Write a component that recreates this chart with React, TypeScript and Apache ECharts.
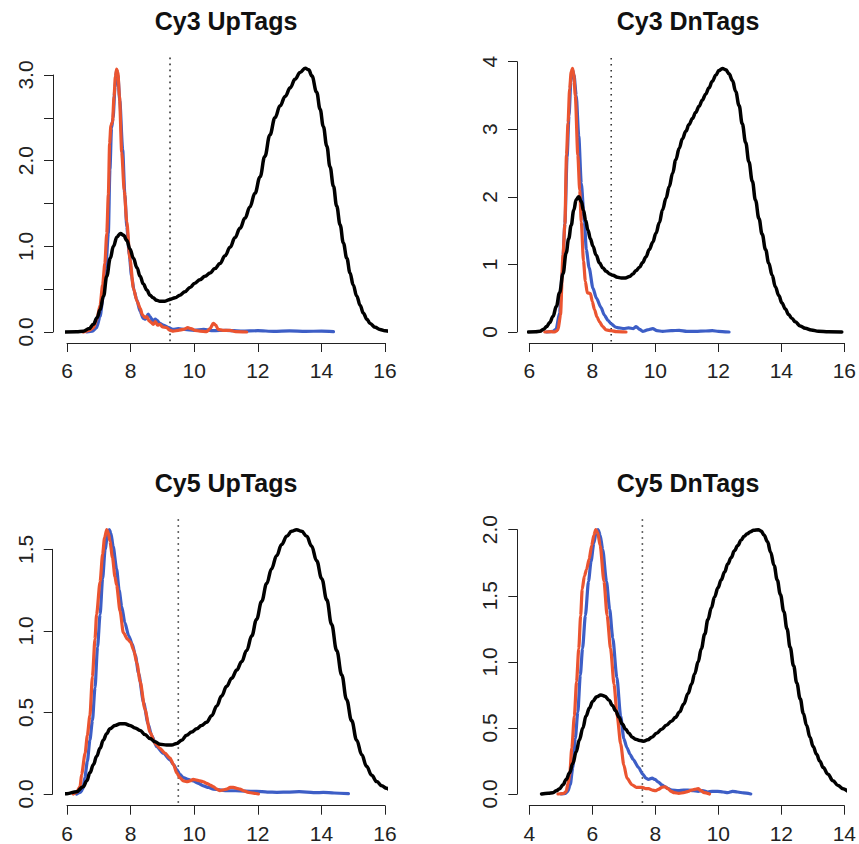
import React, { useEffect, useRef } from 'react';
import * as echarts from 'echarts';

type P = [number, number][];

// ---------- Cy3 UpTags ----------
const cy3UpTitle = 'Cy3 UpTags';
const cy3UpX = [6, 16, 2];
const cy3UpY = [0, 3, 0.5, 1];
const cy3UpCutoff = 9.24;
const cy3UpBlack: P = [[5.94,0],[6.3,0.003],[6.51,0.01],[6.7,0.04],[6.83,0.09],[6.95,0.17],[7.04,0.26],[7.15,0.42],[7.25,0.65],[7.36,0.86],[7.46,1.0],[7.57,1.11],[7.68,1.15],[7.78,1.13],[7.88,1.07],[7.98,0.97],[8.09,0.86],[8.2,0.75],[8.3,0.65],[8.4,0.56],[8.51,0.49],[8.61,0.43],[8.71,0.4],[8.82,0.37],[8.92,0.36],[9.08,0.36],[9.24,0.38],[9.4,0.4],[9.55,0.43],[9.71,0.47],[9.87,0.52],[10.02,0.57],[10.18,0.61],[10.34,0.65],[10.5,0.69],[10.65,0.74],[10.81,0.8],[10.97,0.89],[11.13,0.99],[11.28,1.1],[11.44,1.21],[11.6,1.33],[11.75,1.46],[11.91,1.62],[12.07,1.81],[12.22,2.05],[12.38,2.3],[12.54,2.5],[12.7,2.64],[12.86,2.75],[13.02,2.85],[13.17,2.95],[13.33,3.03],[13.49,3.08],[13.6,3.06],[13.7,2.99],[13.85,2.8],[13.96,2.6],[14.06,2.4],[14.17,2.17],[14.27,1.93],[14.38,1.7],[14.48,1.47],[14.59,1.25],[14.69,1.04],[14.8,0.86],[14.9,0.69],[15.0,0.55],[15.11,0.42],[15.22,0.31],[15.32,0.22],[15.43,0.15],[15.53,0.1],[15.69,0.055],[15.84,0.03],[16.0,0.015],[16.16,0.007],[16.39,0]];
const cy3UpBlue: P = [[6.62,0],[6.8,0.01],[6.93,0.05],[7.04,0.18],[7.14,0.42],[7.22,0.75],[7.3,1.15],[7.35,1.9],[7.4,2.38],[7.45,2.5],[7.51,2.86],[7.56,3.05],[7.6,3.0],[7.66,2.7],[7.75,2.13],[7.82,1.6],[7.88,1.23],[7.96,0.9],[8.03,0.65],[8.11,0.48],[8.19,0.38],[8.3,0.24],[8.4,0.16],[8.47,0.15],[8.55,0.21],[8.61,0.18],[8.7,0.13],[8.78,0.15],[8.82,0.14],[8.92,0.1],[9.03,0.08],[9.2,0.05],[9.34,0.03],[9.5,0.04],[9.7,0.03],[10.0,0.02],[10.3,0.03],[10.6,0.015],[11.0,0.02],[11.5,0.01],[12.0,0.015],[12.5,0.008],[13.0,0.012],[13.5,0.008],[14.0,0.01],[14.38,0.005]];
const cy3UpRed: P = [[6.51,0],[6.7,0.02],[6.83,0.05],[6.94,0.15],[7.04,0.31],[7.12,0.55],[7.19,0.8],[7.25,1.15],[7.3,1.6],[7.34,2.2],[7.38,2.41],[7.43,2.45],[7.48,2.75],[7.52,2.98],[7.56,3.07],[7.6,3.03],[7.65,2.75],[7.72,2.1],[7.8,1.65],[7.88,1.29],[7.98,0.85],[8.09,0.51],[8.2,0.36],[8.3,0.28],[8.37,0.2],[8.45,0.17],[8.51,0.18],[8.58,0.13],[8.65,0.11],[8.71,0.09],[8.78,0.12],[8.85,0.08],[8.92,0.09],[9.0,0.06],[9.13,0.05],[9.24,0.02],[9.34,0.01],[9.5,0.02],[9.66,0.03],[9.8,0.05],[9.9,0.04],[10.02,0.02],[10.18,0.01],[10.39,0.005],[10.5,0.04],[10.6,0.1],[10.68,0.08],[10.75,0.03],[10.9,0.02],[11.13,0.02],[11.3,0.005],[11.65,0]];

// ---------- Cy3 DnTags ----------
const cy3DnTitle = 'Cy3 DnTags';
const cy3DnX = [6, 16, 2];
const cy3DnY = [0, 4, 1, 1];
const cy3DnCutoff = 8.6;
const cy3DnBlack: P = [[5.97,0],[6.2,0.005],[6.34,0.01],[6.45,0.04],[6.55,0.08],[6.65,0.14],[6.75,0.23],[6.86,0.38],[6.96,0.58],[7.07,0.86],[7.17,1.17],[7.25,1.38],[7.33,1.58],[7.41,1.8],[7.49,1.96],[7.57,2.0],[7.65,1.93],[7.72,1.8],[7.79,1.65],[7.86,1.51],[7.94,1.38],[8.02,1.27],[8.12,1.14],[8.23,1.02],[8.33,0.95],[8.44,0.9],[8.55,0.86],[8.65,0.84],[8.8,0.81],[8.92,0.8],[9.05,0.8],[9.18,0.82],[9.29,0.86],[9.39,0.91],[9.5,0.96],[9.6,1.03],[9.7,1.11],[9.81,1.22],[9.92,1.33],[10.02,1.46],[10.13,1.62],[10.23,1.81],[10.34,1.98],[10.44,2.15],[10.55,2.35],[10.65,2.55],[10.76,2.72],[10.86,2.86],[10.97,2.97],[11.07,3.07],[11.18,3.16],[11.28,3.25],[11.39,3.34],[11.49,3.43],[11.6,3.52],[11.7,3.61],[11.81,3.71],[11.92,3.8],[12.02,3.87],[12.13,3.9],[12.24,3.88],[12.34,3.82],[12.45,3.72],[12.55,3.56],[12.66,3.35],[12.76,3.08],[12.87,2.8],[12.97,2.52],[13.08,2.23],[13.18,1.95],[13.29,1.68],[13.39,1.45],[13.5,1.22],[13.6,1.02],[13.71,0.84],[13.81,0.67],[13.92,0.54],[14.02,0.43],[14.13,0.34],[14.23,0.26],[14.34,0.2],[14.44,0.15],[14.6,0.09],[14.76,0.055],[14.95,0.03],[15.18,0.012],[15.5,0.004],[15.92,0]];
const cy3DnBlue: P = [[6.55,0],[6.75,0.01],[6.85,0.04],[6.96,0.28],[7.05,0.9],[7.13,1.6],[7.2,2.6],[7.26,3.2],[7.32,3.7],[7.37,3.88],[7.42,3.8],[7.49,3.5],[7.57,2.9],[7.65,2.2],[7.75,1.63],[7.81,1.22],[7.9,0.95],[8.02,0.65],[8.13,0.5],[8.28,0.36],[8.38,0.25],[8.5,0.17],[8.6,0.12],[8.75,0.07],[8.85,0.06],[9.0,0.05],[9.15,0.06],[9.3,0.05],[9.39,0.08],[9.5,0.04],[9.6,0.01],[9.75,0.03],[9.92,0.05],[10.05,0.02],[10.23,0.01],[10.5,0.02],[10.76,0.025],[11.0,0.01],[11.28,0.01],[11.6,0.015],[11.81,0.02],[12.0,0.01],[12.34,0]];
const cy3DnRed: P = [[6.49,0],[6.7,0.005],[6.8,0],[6.91,0.03],[6.99,0.25],[7.07,1.14],[7.13,1.6],[7.18,2.62],[7.23,3.1],[7.28,3.6],[7.33,3.85],[7.37,3.9],[7.41,3.82],[7.46,3.5],[7.54,2.62],[7.6,2.1],[7.65,1.63],[7.72,1.05],[7.78,0.75],[7.84,0.58],[7.94,0.57],[8.0,0.45],[8.07,0.33],[8.15,0.22],[8.23,0.15],[8.33,0.08],[8.44,0.03],[8.6,0.02],[8.76,0.005],[9.07,0]];

// ---------- Cy5 UpTags ----------
const cy5UpTitle = 'Cy5 UpTags';
const cy5UpX = [6, 16, 2];
const cy5UpY = [0, 1.5, 0.5, 0.5];
const cy5UpCutoff = 9.5;
const cy5UpBlack: P = [[5.57,0],[6.0,0.002],[6.3,0.014],[6.51,0.045],[6.62,0.08],[6.72,0.13],[6.83,0.18],[6.93,0.23],[7.04,0.28],[7.14,0.33],[7.25,0.37],[7.35,0.4],[7.51,0.42],[7.67,0.43],[7.82,0.43],[7.98,0.42],[8.14,0.405],[8.3,0.39],[8.45,0.365],[8.61,0.34],[8.77,0.32],[8.92,0.305],[9.13,0.3],[9.29,0.3],[9.45,0.31],[9.61,0.33],[9.76,0.36],[9.92,0.38],[10.08,0.4],[10.23,0.42],[10.39,0.44],[10.55,0.48],[10.71,0.54],[10.86,0.6],[11.02,0.66],[11.18,0.71],[11.34,0.76],[11.49,0.81],[11.65,0.88],[11.81,0.97],[11.96,1.07],[12.12,1.18],[12.28,1.29],[12.43,1.38],[12.59,1.46],[12.75,1.53],[12.91,1.58],[13.06,1.61],[13.22,1.62],[13.38,1.61],[13.54,1.58],[13.69,1.52],[13.85,1.43],[14.01,1.32],[14.17,1.19],[14.32,1.04],[14.48,0.88],[14.64,0.73],[14.79,0.58],[14.95,0.45],[15.11,0.33],[15.27,0.24],[15.42,0.17],[15.58,0.115],[15.74,0.076],[15.9,0.05],[16.05,0.035],[16.2,0.02],[16.39,0.01]];
const cy5UpBlue: P = [[6.3,0],[6.42,0.01],[6.5,0.03],[6.56,0.1],[6.64,0.2],[6.72,0.33],[6.8,0.45],[6.88,0.65],[6.96,0.9],[7.04,1.1],[7.12,1.32],[7.2,1.5],[7.28,1.6],[7.33,1.62],[7.38,1.6],[7.45,1.52],[7.56,1.38],[7.64,1.25],[7.72,1.15],[7.82,1.05],[7.94,0.97],[8.05,0.92],[8.15,0.85],[8.25,0.74],[8.41,0.56],[8.55,0.43],[8.66,0.36],[8.82,0.29],[9.03,0.25],[9.24,0.21],[9.35,0.18],[9.45,0.15],[9.55,0.12],[9.66,0.1],[9.8,0.09],[9.97,0.08],[10.13,0.065],[10.29,0.05],[10.45,0.04],[10.6,0.03],[10.8,0.025],[11.02,0.02],[11.3,0.02],[11.6,0.018],[11.96,0.016],[12.3,0.012],[12.6,0.01],[13.0,0.012],[13.3,0.014],[13.54,0.012],[13.8,0.008],[14.06,0.01],[14.4,0.006],[14.85,0.002]];
const cy5UpRed: P = [[6.2,0],[6.3,0.01],[6.41,0.045],[6.46,0.12],[6.57,0.25],[6.64,0.36],[6.72,0.48],[6.8,0.72],[6.88,0.95],[6.93,1.1],[7.04,1.3],[7.12,1.47],[7.18,1.57],[7.25,1.62],[7.3,1.6],[7.35,1.55],[7.43,1.45],[7.51,1.33],[7.56,1.28],[7.67,1.12],[7.77,0.99],[7.9,0.95],[8.0,0.93],[8.1,0.88],[8.2,0.8],[8.3,0.69],[8.45,0.52],[8.61,0.38],[8.77,0.31],[8.92,0.28],[9.08,0.25],[9.24,0.22],[9.35,0.18],[9.45,0.13],[9.55,0.1],[9.66,0.08],[9.76,0.075],[9.87,0.08],[9.97,0.09],[10.08,0.085],[10.18,0.08],[10.29,0.075],[10.39,0.065],[10.5,0.055],[10.6,0.045],[10.71,0.03],[10.81,0.02],[10.92,0.025],[11.02,0.03],[11.13,0.04],[11.23,0.04],[11.34,0.035],[11.44,0.03],[11.55,0.02],[11.7,0.01],[11.85,0.005],[12.02,0]];

// ---------- Cy5 DnTags ----------
const cy5DnTitle = 'Cy5 DnTags';
const cy5DnX = [4, 14, 2];
const cy5DnY = [0, 2, 0.5, 0.5];
const cy5DnCutoff = 7.59;
const cy5DnBlack: P = [[4.39,0],[4.6,0.005],[4.75,0.01],[4.86,0.025],[4.96,0.04],[5.07,0.07],[5.17,0.11],[5.28,0.16],[5.38,0.23],[5.49,0.32],[5.59,0.41],[5.7,0.5],[5.8,0.59],[5.91,0.65],[6.01,0.7],[6.14,0.735],[6.27,0.75],[6.4,0.74],[6.53,0.71],[6.64,0.67],[6.74,0.63],[6.85,0.58],[6.95,0.53],[7.06,0.49],[7.16,0.46],[7.27,0.43],[7.37,0.415],[7.5,0.405],[7.63,0.4],[7.76,0.41],[7.89,0.43],[8.04,0.46],[8.2,0.49],[8.35,0.52],[8.51,0.55],[8.64,0.58],[8.77,0.62],[8.9,0.68],[9.04,0.76],[9.15,0.83],[9.25,0.91],[9.36,1.0],[9.46,1.1],[9.57,1.21],[9.67,1.32],[9.78,1.41],[9.88,1.49],[9.99,1.56],[10.09,1.62],[10.2,1.68],[10.3,1.74],[10.41,1.79],[10.51,1.84],[10.62,1.88],[10.72,1.92],[10.82,1.95],[10.92,1.97],[11.02,1.985],[11.12,1.995],[11.27,2.0],[11.36,1.99],[11.45,1.96],[11.56,1.91],[11.66,1.83],[11.77,1.73],[11.87,1.62],[11.97,1.51],[12.08,1.38],[12.18,1.25],[12.28,1.11],[12.39,0.97],[12.49,0.84],[12.6,0.72],[12.7,0.61],[12.8,0.52],[12.91,0.43],[13.01,0.36],[13.12,0.3],[13.22,0.25],[13.33,0.2],[13.48,0.15],[13.64,0.1],[13.8,0.065],[13.96,0.04],[14.15,0.02],[14.35,0.01]];
const cy5DnBlue: P = [[5.01,0],[5.15,0.005],[5.22,0.02],[5.3,0.07],[5.38,0.2],[5.46,0.42],[5.54,0.62],[5.62,0.9],[5.69,1.1],[5.78,1.35],[5.88,1.61],[5.96,1.76],[6.05,1.9],[6.12,1.98],[6.18,2.0],[6.25,1.96],[6.33,1.85],[6.45,1.61],[6.55,1.4],[6.65,1.18],[6.78,0.88],[6.9,0.59],[7.0,0.42],[7.1,0.35],[7.2,0.3],[7.3,0.26],[7.47,0.2],[7.6,0.15],[7.7,0.12],[7.78,0.11],[7.9,0.12],[7.99,0.11],[8.1,0.09],[8.2,0.07],[8.31,0.055],[8.41,0.04],[8.52,0.03],[8.73,0.025],[8.9,0.03],[9.04,0.03],[9.2,0.025],[9.36,0.02],[9.5,0.025],[9.67,0.015],[9.8,0.02],[9.98,0.02],[10.15,0.015],[10.3,0.01],[10.45,0.02],[10.61,0.015],[10.8,0.008],[11.03,0]];
const cy5DnRed: P = [[4.91,0],[5.1,0.005],[5.17,0.02],[5.23,0.08],[5.28,0.14],[5.35,0.35],[5.43,0.59],[5.5,0.85],[5.57,1.1],[5.63,1.35],[5.68,1.55],[5.75,1.65],[5.82,1.7],[5.9,1.78],[5.98,1.88],[6.05,1.96],[6.11,2.0],[6.17,1.98],[6.25,1.88],[6.37,1.61],[6.47,1.35],[6.58,1.1],[6.69,0.83],[6.79,0.59],[6.9,0.38],[7.0,0.22],[7.1,0.12],[7.26,0.07],[7.4,0.05],[7.58,0.05],[7.7,0.04],[7.79,0.04],[7.9,0.03],[8.0,0.025],[8.1,0.035],[8.21,0.05],[8.3,0.055],[8.4,0.04],[8.5,0.02],[8.6,0.01],[8.75,0.005],[8.9,0.01],[9.05,0.02],[9.15,0.03],[9.25,0.035],[9.36,0.04],[9.45,0.025],[9.55,0.01],[9.72,0]];

const PANELS = [
  { title: cy3UpTitle, x: cy3UpX, y: cy3UpY, cutoff: cy3UpCutoff, black: cy3UpBlack, blue: cy3UpBlue, red: cy3UpRed, dec: 1,
    layout: { left: 67, top: 75, width: 318, height: 257, xOff: 11, yOff: 14, tx: 226, ty: 21 } },
  { title: cy3DnTitle, x: cy3DnX, y: cy3DnY, cutoff: cy3DnCutoff, black: cy3DnBlack, blue: cy3DnBlue, red: cy3DnRed, dec: 0,
    layout: { left: 529.3, top: 61.7, width: 317.5, height: 270.3, xOff: 11, yOff: 12.3, tx: 688, ty: 21 } },
  { title: cy5UpTitle, x: cy5UpX, y: cy5UpY, cutoff: cy5UpCutoff, black: cy5UpBlack, blue: cy5UpBlue, red: cy5UpRed, dec: 1,
    layout: { left: 67, top: 549.3, width: 318, height: 244.7, xOff: 11.7, yOff: 14.3, tx: 226, ty: 482.5 } },
  { title: cy5DnTitle, x: cy5DnX, y: cy5DnY, cutoff: cy5DnCutoff, black: cy5DnBlack, blue: cy5DnBlue, red: cy5DnRed, dec: 1,
    layout: { left: 529.3, top: 529.7, width: 318.9, height: 264.3, xOff: 11.7, yOff: 12, tx: 688, ty: 482.5 } },
];

const FONT = '"Liberation Sans", Arial, Helvetica, sans-serif';
const AXIS_COLOR = '#222';
const BLUE = '#3D5EC6';
const RED = '#EB5430';

export default function App() {
  const ref = useRef<HTMLDivElement>(null);
  useEffect(() => {
    if (!ref.current) return;
    const chart = echarts.init(ref.current, undefined, { renderer: 'svg' });
    const grid: any[] = [];
    const xAxis: any[] = [];
    const yAxis: any[] = [];
    const series: any[] = [];
    const graphic: any[] = [];
    PANELS.forEach((p, i) => {
      const L = p.layout;
      grid.push({ left: L.left, top: L.top, width: L.width, height: L.height, containLabel: false });
      const axisCommon = {
        axisLine: { show: true, onZero: false, lineStyle: { color: AXIS_COLOR, width: 1 } },
        axisTick: { show: true, length: 9, lineStyle: { color: AXIS_COLOR, width: 1 } },
        splitLine: { show: false },
      };
      xAxis.push({
        type: 'value', gridIndex: i, min: p.x[0], max: p.x[1], interval: p.x[2], offset: L.xOff,
        ...axisCommon,
        axisLabel: { margin: 17, fontSize: 21, fontFamily: FONT, color: AXIS_COLOR, showMinLabel: true, showMaxLabel: true },
      });
      const step = p.y[3];
      const dec = p.dec;
      yAxis.push({
        type: 'value', gridIndex: i, min: p.y[0], max: p.y[1], interval: p.y[2], offset: L.yOff,
        ...axisCommon,
        axisLabel: {
          rotate: 90, margin: 17, fontSize: 21, fontFamily: FONT, color: AXIS_COLOR, showMinLabel: true, showMaxLabel: true,
          formatter: (v: number) => (Math.abs(v / step - Math.round(v / step)) < 1e-6 ? v.toFixed(dec) : ''),
        },
      });
      const ymax = Math.max(...p.black.map((d) => d[1]), ...p.red.map((d) => d[1]), ...p.blue.map((d) => d[1]));
      const vline: P = [[p.cutoff, ymax * 1.04], [p.cutoff, -ymax * 0.04]];
      series.push({
        type: 'line', xAxisIndex: i, yAxisIndex: i, data: vline, symbol: 'none', clip: false, silent: true,
        lineStyle: { color: '#333', width: 1.6, type: [1.6, 4.4] },
      });
      const mk = (data: P, color: string, width: number, smooth: number) => ({
        type: 'line', xAxisIndex: i, yAxisIndex: i, data, symbol: 'none', clip: false, silent: true,
        smooth, smoothMonotone: 'x', lineStyle: { color, width, cap: 'round', join: 'round' },
      });
      series.push(mk(p.blue, BLUE, 3.2, 0.25));
      series.push(mk(p.red, RED, 3.2, 0.25));
      series.push(mk(p.black, '#000', 3.5, 0.4));
      graphic.push({
        type: 'text', x: L.tx, y: L.ty, silent: true,
        style: {
          text: p.title, font: `bold 25px ${FONT}`, fill: '#111',
          textAlign: 'center', textVerticalAlign: 'middle', align: 'center', verticalAlign: 'middle',
        },
      });
    });
    chart.setOption({
      animation: false,
      backgroundColor: '#fff',
      grid, xAxis, yAxis, series, graphic,
    });
    return () => chart.dispose();
  }, []);
  return <div ref={ref} style={{ position: 'absolute', left: 0, top: 0, width: 859, height: 844 }} />;
}
